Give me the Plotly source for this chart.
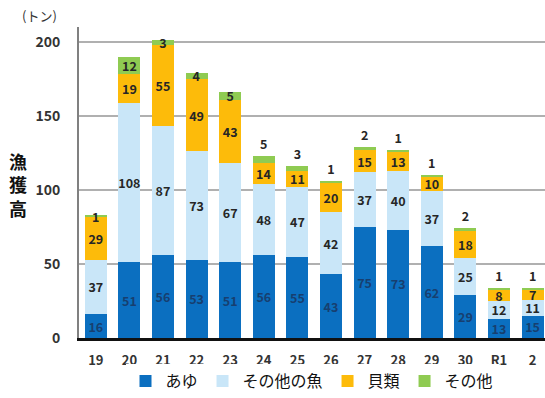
import plotly.graph_objects as go

# 年度別 漁獲高（トン）
years = ["19", "20", "21", "22", "23", "24", "25", "26", "27", "28", "29", "30", "R1", "2"]
ayu = [16, 51, 56, 53, 51, 56, 55, 43, 75, 73, 62, 29, 13, 15]
other_fish = [37, 108, 87, 73, 67, 48, 47, 42, 37, 40, 37, 25, 12, 11]
shellfish = [29, 19, 55, 49, 43, 14, 11, 20, 15, 13, 10, 18, 8, 7]
others = [1, 12, 3, 4, 5, 5, 3, 1, 2, 1, 1, 2, 1, 1]

# label placement for the top (その他) segments
others_label_pos = ["inside"] * 5 + ["outside"] * 9

FONT = "Noto Sans CJK JP"

series = [
    ("あゆ", ayu, "#0b6fc0", "#173f70", "inside"),
    ("その他の魚", other_fish, "#c9e6f8", "#262626", "inside"),
    ("貝類", shellfish, "#fdbb0a", "#262626", "inside"),
    ("その他", others, "#8fcb52", "#262626", others_label_pos),
]

fig = go.Figure()
for name, vals, color, tcolor, pos in series:
    tfont = dict(family=FONT, size=12.5, color=tcolor, weight="bold")
    fig.add_trace(go.Bar(
        x=years, y=vals, name=name,
        marker=dict(color=color, line=dict(width=0)),
        text=[str(v) for v in vals],
        textposition=pos,
        insidetextanchor="middle",
        constraintext="none",
        textangle=0,
        insidetextfont=tfont,
        outsidetextfont=tfont,
        cliponaxis=False,
        hoverinfo="skip",
    ))

fig.update_layout(
    width=545, height=398,
    margin=dict(l=79, r=0, t=27, b=58),
    paper_bgcolor="white", plot_bgcolor="white",
    barmode="stack", bargap=0.345,
    font=dict(family=FONT, color="#333333"),
    showlegend=True,
    legend=dict(
        orientation="h", x=0.5, xanchor="center", y=-0.14, yanchor="middle",
        font=dict(family=FONT, size=16, color="#111111"),
        itemwidth=30, traceorder="normal", tracegroupgap=0,
    ),
    xaxis=dict(
        range=[-0.5, 13.37], showgrid=False, ticks="",
        showline=True, linecolor="#111111", linewidth=3,
        ticklabelstandoff=8,
        tickfont=dict(family=FONT, size=13, color="#333333", weight="bold"),
        fixedrange=True,
    ),
    yaxis=dict(
        range=[0, 210], tickvals=[0, 50, 100, 150, 200],
        showgrid=True, gridcolor="#b0b0b0", gridwidth=2,
        showline=True, linecolor="#808080", linewidth=2,
        zeroline=False, ticks="", ticklabelstandoff=14,
        tickfont=dict(family=FONT, size=14, color="#333333", weight="bold"),
        fixedrange=True,
    ),
    annotations=[
        dict(text="(トン)", xref="paper", yref="paper", x=-0.084, y=1.038,
             xanchor="center", yanchor="middle", showarrow=False,
             font=dict(family=FONT, size=13, color="#333333")),
        dict(text="漁<br>獲<br>高", xref="paper", yref="paper", x=-0.131, y=0.495,
             xanchor="center", yanchor="middle", showarrow=False,
             font=dict(family=FONT, size=18, color="#111111", weight="bold")),
    ],
)

fig.write_html("out.html")
